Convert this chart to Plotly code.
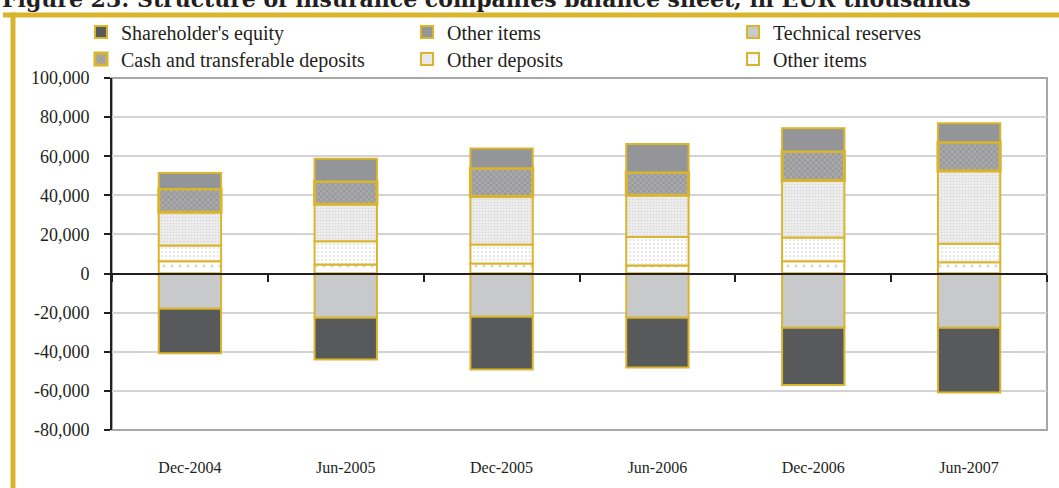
import plotly.graph_objects as go

# Balance sheet structure of insurance companies, EUR thousands
periods = ["Dec-2004", "Jun-2005", "Dec-2005", "Jun-2006", "Dec-2006", "Jun-2007"]

# Asset side (stacked upwards from zero)
securities = [6300, 4600, 5100, 4100, 6300, 5800]
other_items_assets = [8000, 11900, 9700, 14600, 12200, 9500]
other_deposits = [17000, 19000, 24600, 21300, 29100, 37200]
cash_deposits = [11900, 11600, 14500, 11700, 14800, 14700]
other_items_top = [8200, 11600, 10100, 14600, 11900, 9700]

# Liability side (stacked downwards from zero)
technical_reserves = [-18000, -22600, -22100, -22600, -27700, -27700]
shareholders_equity = [-22800, -21300, -26900, -25500, -29300, -33100]

y_ticks = [-80000, -60000, -40000, -20000, 0, 20000, 40000, 60000, 80000, 100000]
y_tick_labels = [f"{v:,}" for v in y_ticks]

GOLD = "#d9b52e"
FONT = "Liberation Serif"
INK = "#231f20"
W, H = 1059, 488
L, R, T, B = 112, 12, 78, 58
PW, PH = W - L - R, H - T - B


def px_x(p):
    return (p - L) / PW


def px_y(p):
    return (H - B - p) / PH


def bar(name, values, color, legend=None, pattern=None, lw=2, rank=None):
    marker = dict(color=color, line=dict(color=GOLD, width=lw))
    if pattern:
        marker["pattern"] = pattern
    return go.Bar(
        name=name, x=periods, y=values, marker=marker,
        showlegend=legend is not None, legend=legend or "legend",
        legendrank=rank, hoverinfo="x+y+name",
    )


fig = go.Figure()
fig.add_trace(bar("Securities", securities, "white",
                  pattern=dict(shape=".", fgcolor="#b8b8b8", bgcolor="white", size=8, solidity=0.15)))
fig.add_trace(bar("Other items", other_items_assets, "white", legend="legend2", rank=3,
                  pattern=dict(shape=".", fgcolor="#cfcfcf", bgcolor="white", size=4, solidity=0.3)))
fig.add_trace(bar("Other deposits", other_deposits, "#ececec", legend="legend2", rank=2,
                  pattern=dict(shape=".", fgcolor="#c4c4c4", bgcolor="#efefef", size=3, solidity=0.35)))
fig.add_trace(bar("Cash and transferable deposits", cash_deposits, "#a5a5a7", legend="legend2", rank=1, lw=3,
                  pattern=dict(shape="x", fgcolor="#7c7c7e", bgcolor="#a9a9ab", size=4, solidity=0.4)))
fig.add_trace(bar("Other items", other_items_top, "#939598", legend="legend", rank=2))
fig.add_trace(bar("Technical reserves", technical_reserves, "#c8c9cb", legend="legend", rank=3))
fig.add_trace(bar("Shareholder's equity", shareholders_equity, "#58595b", legend="legend", rank=1))

# invisible trace carrying the category ticks along the zero line
fig.add_trace(go.Scatter(x=periods, y=[0] * len(periods), xaxis="x2", mode="markers",
                         marker=dict(opacity=0), showlegend=False, hoverinfo="skip"))

legend_style = dict(
    orientation="h", xanchor="left", yanchor="middle",
    entrywidth=281, entrywidthmode="pixels", itemwidth=30,
    font=dict(family=FONT, size=20, color=INK), traceorder="normal",
    bgcolor="rgba(0,0,0,0)", itemclick=False, itemdoubleclick=False,
)

fig.update_layout(
    width=W, height=H,
    margin=dict(l=L, r=R, t=T, b=B, autoexpand=False),
    paper_bgcolor="white", plot_bgcolor="white",
    barmode="relative", bargap=0.6,
    font=dict(family=FONT, size=17, color=INK),
    xaxis=dict(
        type="category", showgrid=False, ticks="", showline=False,
        ticklabelstandoff=26, tickfont=dict(size=16),
    ),
    xaxis2=dict(
        type="category", overlaying="x", anchor="free", position=px_y(274),
        matches="x", showgrid=False, showticklabels=False,
        ticks="outside", tickson="boundaries", ticklen=7, tickwidth=2, tickcolor=INK,
        showline=True, linecolor=INK, linewidth=2, layer="above traces",
    ),
    yaxis=dict(
        range=[-80000, 100000], tickvals=y_ticks, ticktext=y_tick_labels,
        showgrid=True, gridcolor="#d3d3d3", gridwidth=1.5, zeroline=False,
        showline=True, linecolor=INK, linewidth=2,
        ticks="outside", ticklen=6, tickwidth=2, tickcolor=INK,
        ticklabelstandoff=11, tickfont=dict(size=18),
    ),
    legend=dict(legend_style, x=px_x(81), y=px_y(32)),
    legend2=dict(legend_style, x=px_x(81), y=px_y(59)),
    shapes=[
        # plot area border
        dict(type="rect", xref="paper", yref="paper", x0=0, x1=1, y0=0, y1=1,
             line=dict(color="#a7a7a7", width=2), layer="below"),
        # gold frame
        dict(type="line", xref="paper", yref="paper", x0=px_x(3), x1=px_x(W), y0=px_y(15), y1=px_y(15),
             line=dict(color=GOLD, width=5)),
        dict(type="line", xref="paper", yref="paper", x0=px_x(13), x1=px_x(13), y0=px_y(12.5), y1=px_y(H),
             line=dict(color=GOLD, width=5)),
    ],
    annotations=[
        dict(text="<b>Figure 23: Structure of insurance companies balance sheet, in EUR thousands</b>",
             xref="paper", yref="paper", x=px_x(0), y=px_y(-1), xanchor="left", yanchor="middle",
             showarrow=False, font=dict(family="DejaVu Serif", size=22, color=INK)),
    ],
)

fig.write_html("out.html")
